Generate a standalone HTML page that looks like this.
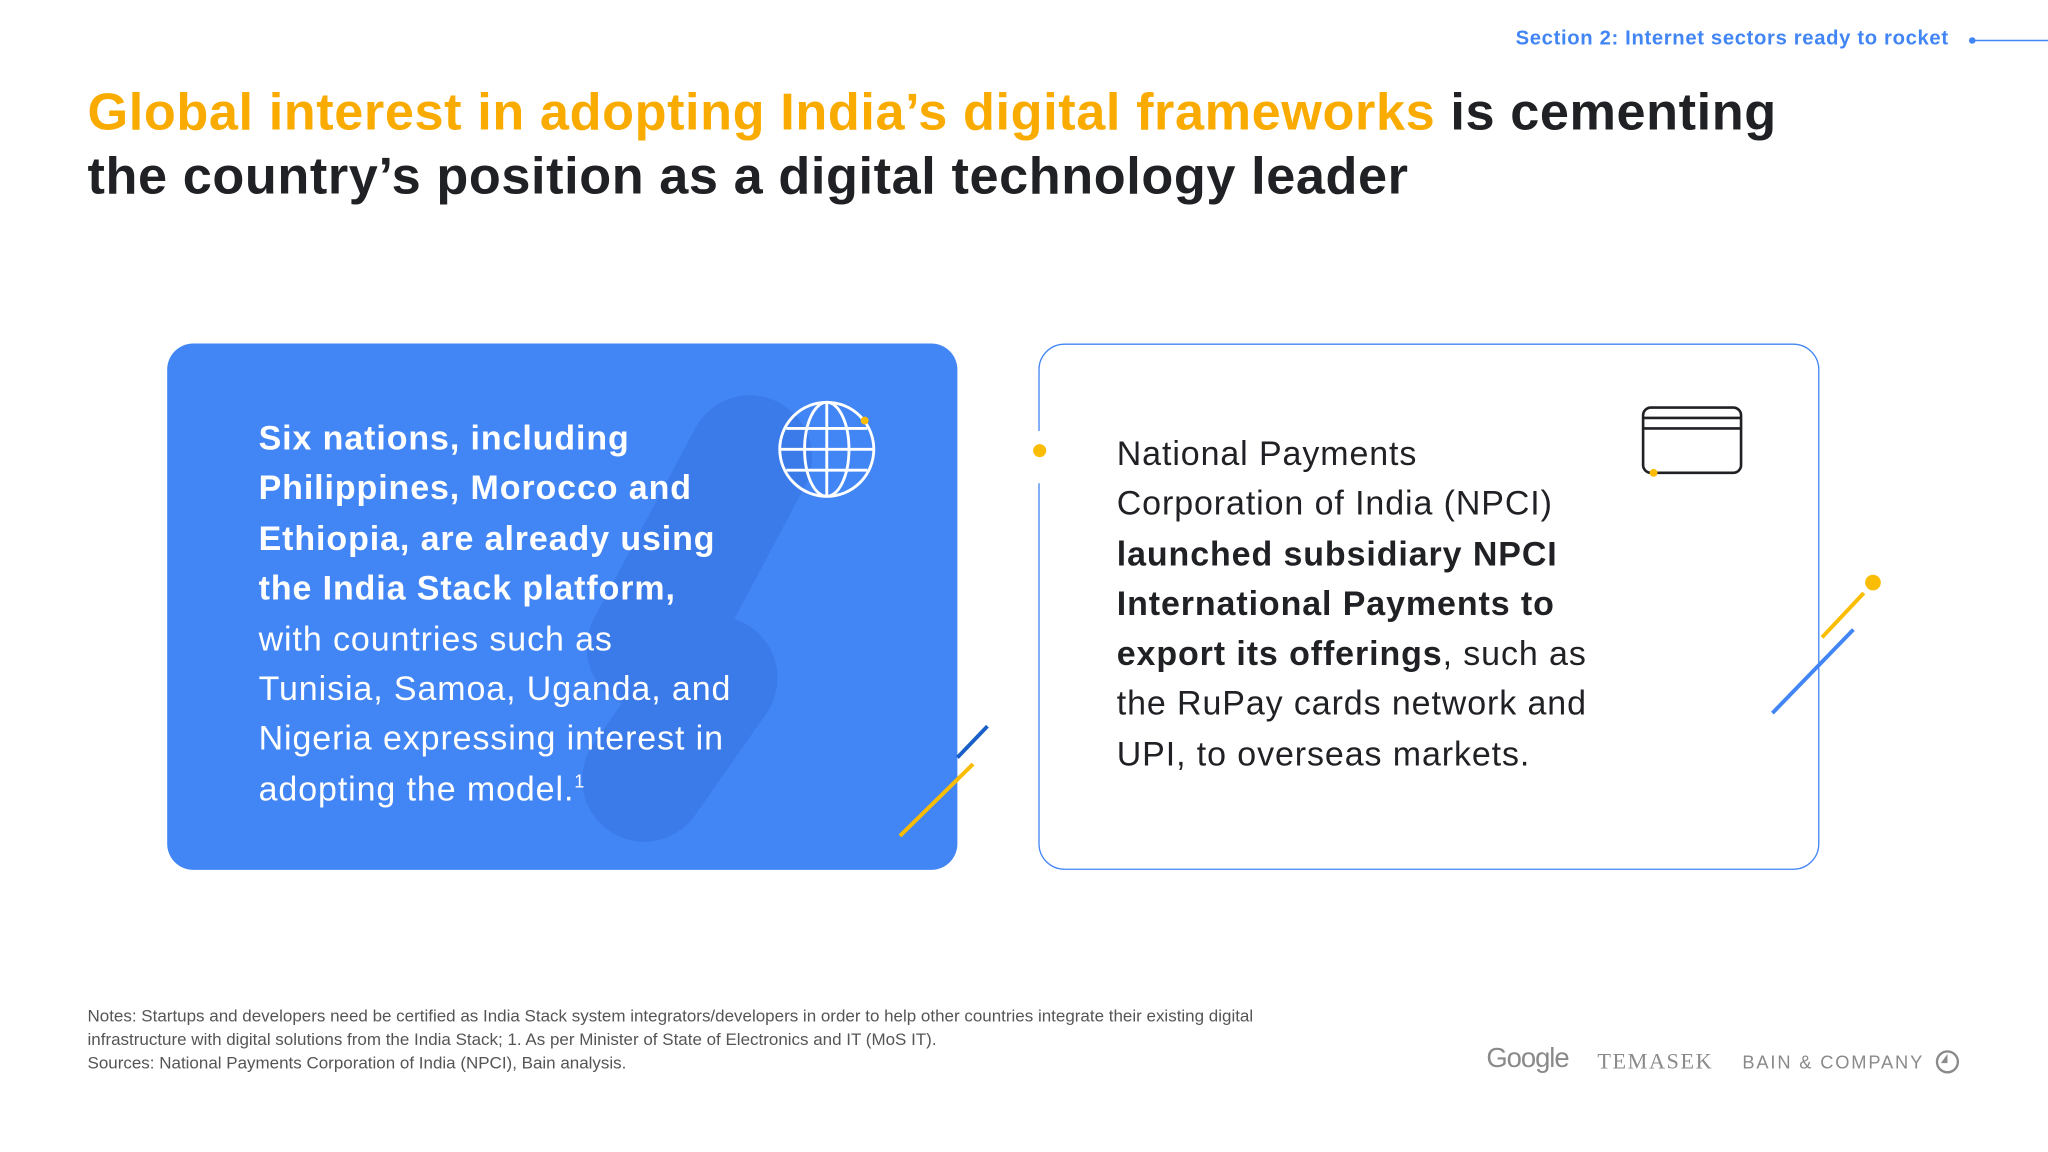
<!DOCTYPE html>
<html><head><meta charset="utf-8"><style>
html,body{margin:0;padding:0;background:#fff;width:2048px;height:1152px;overflow:hidden}
#s{position:absolute;left:0;top:0;width:1568px;height:882px;transform:scale(1.306122);transform-origin:0 0;font-family:"Liberation Sans",sans-serif}
.a{position:absolute}
.t{font-weight:bold;font-size:40px;color:#202124;letter-spacing:0.45px;white-space:nowrap}
.bt{color:#fff;font-size:26px;line-height:38.4px;letter-spacing:0.7px;white-space:nowrap}
.wt{color:#202124;font-size:26px;line-height:38.3px;letter-spacing:0.7px;white-space:nowrap}
.n{font-size:13px;color:#555;line-height:18px;white-space:nowrap}
sup{font-size:14px;line-height:0;vertical-align:10px}
</style></head><body>
<div id="s">
<div class="a" style="right:76px;top:21px;color:#4285f4;font-weight:bold;font-size:15.5px;letter-spacing:0.5px;white-space:nowrap">Section 2: Internet sectors ready to rocket</div>
<svg class="a" style="left:1500px;top:25px" width="68" height="12"><circle cx="10" cy="6" r="2.5" fill="#4285f4"/><line x1="10" y1="6" x2="68" y2="6" stroke="#4285f4" stroke-width="1.2"/></svg>
<div class="a t" style="left:67px;top:64px"><span style="color:#f9ab00">Global interest in adopting India’s digital frameworks</span> is cementing</div>
<div class="a t" style="left:67px;top:113px;letter-spacing:0.45px">the country’s position as a digital technology leader</div>

<div class="a" style="left:128px;top:263px;width:605px;height:403px;background:#4285f4;border-radius:20px;overflow:hidden">
<div class="a" style="left:360px;top:30px;width:95px;height:260px;background:#3b7be9;border-radius:48px;transform:rotate(28deg)"></div>
<div class="a" style="left:345px;top:200px;width:95px;height:190px;background:#3b7be9;border-radius:48px;transform:rotate(35deg)"></div>
</div>
<div class="a bt" style="left:198px;top:316px"><b>Six nations, including<br>Philippines, Morocco and<br>Ethiopia, are already using<br>the India Stack platform,</b><br>with countries such as<br>Tunisia, Samoa, Uganda, and<br>Nigeria expressing interest in<br>adopting the model.<sup>1</sup></div>
<svg class="a" style="left:590px;top:300px" width="90" height="90"><g fill="none" stroke="#fff" stroke-width="2.2"><circle cx="43" cy="44" r="36"/><ellipse cx="43" cy="44" rx="17" ry="36"/><line x1="43" y1="8" x2="43" y2="80"/><line x1="7" y1="44" x2="79" y2="44"/><path d="M12 28 H74 M12 60 H74"/></g><circle cx="72" cy="22" r="3" fill="#fbbc04"/></svg>
<svg class="a" style="left:680px;top:550px" width="90" height="100"><line x1="53" y1="30" x2="76" y2="6" stroke="#1a5fc8" stroke-width="3"/><line x1="9" y1="90" x2="65" y2="35" stroke="#fbbc04" stroke-width="3"/></svg>

<div class="a" style="left:795px;top:263px;width:596px;height:401px;border:1.5px solid #4285f4;border-radius:20px;background:#fff"></div>
<div class="a" style="left:790px;top:330px;width:12px;height:40px;background:#fff"></div>
<div class="a" style="left:791px;top:340px;width:10px;height:10px;border-radius:50%;background:#fbbc04"></div>
<div class="a wt" style="left:855px;top:328px">National Payments<br>Corporation of India (NPCI)<br><b>launched subsidiary NPCI<br>International Payments to<br>export its offerings</b>, such as<br>the RuPay cards network and<br>UPI, to overseas markets.</div>
<svg class="a" style="left:1250px;top:305px" width="92" height="66"><rect x="8" y="7" width="75" height="50" rx="6" fill="none" stroke="#202124" stroke-width="2"/><line x1="8" y1="15" x2="83" y2="15" stroke="#202124" stroke-width="2"/><line x1="8" y1="23" x2="83" y2="23" stroke="#202124" stroke-width="2"/><circle cx="16" cy="57" r="3" fill="#fbbc04"/></svg>
<svg class="a" style="left:1350px;top:435px" width="100" height="120"><line x1="45" y1="53" x2="77" y2="19" stroke="#fbbc04" stroke-width="3"/><circle cx="84" cy="11" r="6" fill="#fbbc04"/><line x1="7" y1="111" x2="69" y2="47" stroke="#4285f4" stroke-width="3"/></svg>

<div class="a n" style="left:67px;top:769px">Notes: Startups and developers need be certified as India Stack system integrators/developers in order to help other countries integrate their existing digital<br>infrastructure with digital solutions from the India Stack; 1. As per Minister of State of Electronics and IT (MoS IT).<br>Sources: National Payments Corporation of India (NPCI), Bain analysis.</div>
<div class="a" style="left:1138px;top:799px;font-size:21px;color:#8a8a8a;letter-spacing:-0.8px">Google</div>
<div class="a" style="left:1223px;top:803px;font-family:'Liberation Serif',serif;font-size:17px;color:#8a8a8a;letter-spacing:1.2px">TEMASEK</div>
<div class="a" style="left:1334px;top:805px;font-size:14px;color:#8a8a8a;letter-spacing:1.4px;white-space:nowrap">BAIN &amp; COMPANY</div>
<svg class="a" style="left:1480px;top:802px" width="22" height="22"><circle cx="11" cy="11" r="8" fill="none" stroke="#8a8a8a" stroke-width="1.8"/><path d="M11 5 L11 12 L6 12 Z" fill="#8a8a8a"/></svg>
</div>
</body></html>
